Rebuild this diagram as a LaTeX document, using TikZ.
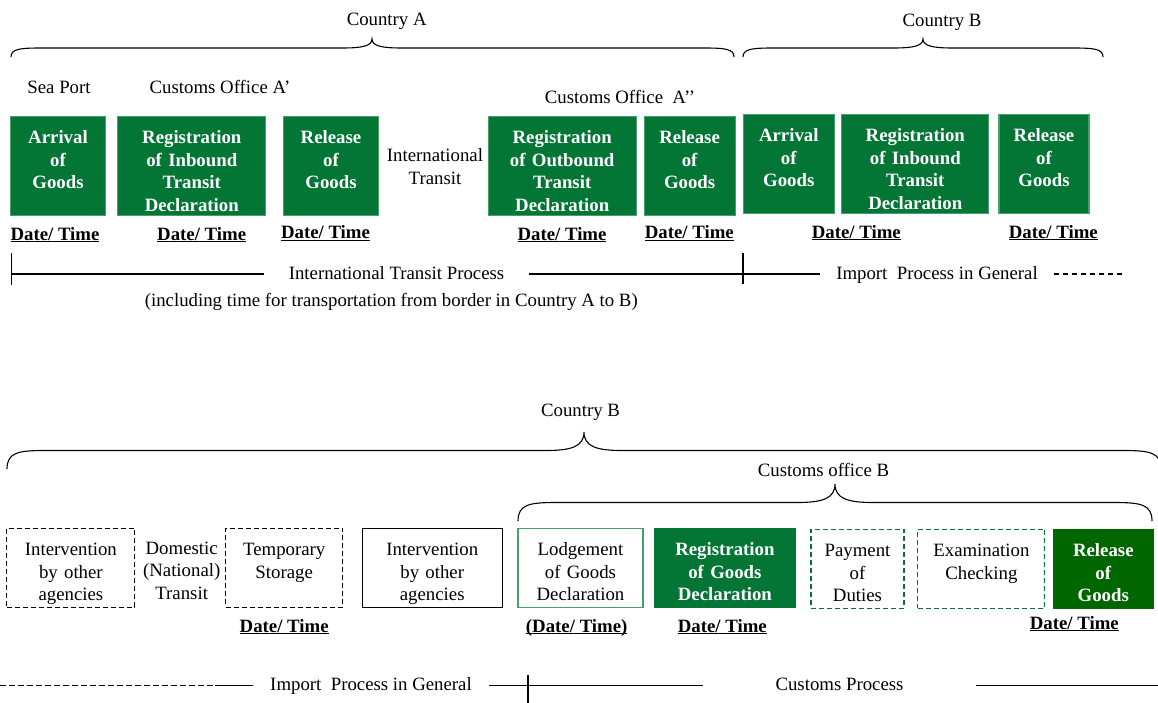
\documentclass[tikz,border=0pt]{standalone}
\usepackage{fontspec}
\setmainfont{Liberation Serif}
\definecolor{boxgreen}{RGB}{3,118,54}
\definecolor{edgegreen}{RGB}{70,160,105}
\definecolor{deepgreen}{RGB}{0,102,0}
\newcommand{\dtul}[1]{\underline{\smash{#1}}}
% left x, right x, tip x, end y, height, curl width
\newcommand{\curlbrace}[6]{%
  \draw[bracestyle] (#1,#4) .. controls (#1,{#4-0.45*#5}) and ({#1+0.3*#6},{#4-0.5*#5}) .. ({#1+#6},{#4-0.5*#5})
    -- ({#3-#6},{#4-0.5*#5}) .. controls ({#3-0.35*#6},{#4-0.5*#5}) and (#3,{#4-0.6*#5}) .. (#3,{#4-#5})
    .. controls (#3,{#4-0.6*#5}) and ({#3+0.35*#6},{#4-0.5*#5}) .. ({#3+#6},{#4-0.5*#5})
    -- ({#2-#6},{#4-0.5*#5}) .. controls ({#2-0.3*#6},{#4-0.5*#5}) and (#2,{#4-0.45*#5}) .. (#2,#4);}
\tikzset{bracestyle/.style={line width=1.1pt}}
\tikzset{stepbox/.style={rectangle, anchor=north, text width=#1, align=center, inner xsep=0pt, inner ysep=0pt, line width=1.1pt}}
\tikzset{greenbox/.style={stepbox=#1, fill=boxgreen, draw=edgegreen, text=white, font=\bfseries, text height=27pt, text depth=72pt}}
\tikzset{lowbox/.style={stepbox=#1, text height=27.5pt, text depth=51.5pt}}
\tikzset{lowfill/.style={lowbox=#1, fill=boxgreen, draw=boxgreen, text=white, font=\bfseries}}
\tikzset{plaintext/.style={anchor=base, inner sep=0pt}}
\tikzset{datetime/.style={anchor=base, inner sep=0pt, font=\bfseries}}
\tikzset{linetext/.style={inner ysep=0pt, inner xsep=#1, text height=13pt, text depth=3pt}}
\tikzset{blackdash/.style={draw, dash pattern=on 5pt off 3pt}}
\tikzset{greendash/.style={draw=boxgreen, dash pattern=on 5pt off 3pt}}

\begin{document}
\begin{tikzpicture}[x=1pt, y=-1pt, line width=1.1pt, execute at begin picture={\fontsize{18.8}{22.5}\selectfont}]
\useasboundingbox (0,0) rectangle (1158,702);

% countries
\node[plaintext] (ctyA) at (386.7,25.5) {Country A};
\node[plaintext] (ctyB) at (942,26) {Country B};
\curlbrace{11}{734}{372}{57}{18}{30}
\curlbrace{743}{1103}{923}{57}{18}{30}

\node[plaintext] (seaport) at (59,93) {Sea Port};
\node[plaintext] (officeA1) at (220,93) {Customs Office A’};
\node[plaintext] (officeA2) at (620,103.3) {Customs Office~ A’’};

% steps in transit
\node[greenbox=95pt] (arriveA) at (58,116.3) {Arrival\\of\\Goods};
\node[greenbox=148pt] (registerA) at (191.8,116.3) {Registration\\of Inbound\\Transit\\Declaration};
\node[greenbox=95pt] (releaseA) at (331,116.3) {Release\\of\\Goods};
\node[plaintext, text width=100pt, align=center] (transit) at (435,161.7) {International\\Transit};
\node[greenbox=148pt] (outboundA) at (562.2,116.3) {Registration\\of Outbound\\Transit\\Declaration};
\node[greenbox=91pt] (releaseA2) at (689.6,116.3) {Release\\of\\Goods};
\node[greenbox=91pt] (arriveB) at (788.8,114.3) {Arrival\\of\\Goods};
\node[greenbox=147pt] (registerB) at (915.3,114.3) {Registration\\of Inbound\\Transit\\Declaration};
\node[greenbox=90pt] (releaseB) at (1044,114.3) {Release\\of\\Goods};

\node[datetime] (dtArriveA) at (55,240) {\dtul{Date/ Time}};
\node[datetime] (dtRegisterA) at (201.7,240) {\dtul{Date/ Time}};
\node[datetime] (dtReleaseA) at (325.5,238.7) {\dtul{Date/ Time}};
\node[datetime] (dtOutboundA) at (562,240) {\dtul{Date/ Time}};
\node[datetime] (dtReleaseA2) at (689.3,238.7) {\dtul{Date/ Time}};
\node[datetime] (dtRegisterB) at (856.3,238) {\dtul{Date/ Time}};
\node[datetime] (dtReleaseB) at (1053.3,238) {\dtul{Date/ Time}};

% transit time line
\coordinate (startA) at (11.7,274);
\coordinate (borderAB) at (743,274);
\coordinate (dashEnd) at (1123,274);
\node[linetext=24pt] (itp) at (396.5,274) {International Transit Process};
\node[linetext=16pt] (impTop) at (937,274) {Import~ Process in General};
\draw ([yshift=21pt]startA) -- ([yshift=-11pt]startA);
\draw ([yshift=21pt]borderAB) -- ([yshift=-10pt]borderAB);
\draw (startA) -- (itp.west);
\draw (itp.east) -- (borderAB) -- (impTop.west);
\draw[dash pattern=on 5pt off 4pt] (impTop.east) -- (dashEnd);
\node[plaintext] (incl) at (391.3,306) {(including time for transportation from border in Country A to B)};

% country B
\node[plaintext] (ctyB2) at (580.5,416) {Country B};
\curlbrace{7}{1161}{584}{469}{37}{38}
\node[plaintext] (officeB) at (823.5,476) {Customs office B};
\curlbrace{518}{1152}{835}{521}{37}{38}

\node[lowbox=128pt, blackdash] (agency1) at (70.9,527.5) {Intervention\\by other\\agencies};
\node[plaintext, text width=80pt, align=center] (domestic) at (181.7,554) {Domestic\\(National)\\Transit};
\node[lowbox=117pt, blackdash] (storage) at (284.2,527.5) {Temporary\\Storage};
\node[lowbox=140pt, draw] (agency2) at (432.2,527.5) {Intervention\\by other\\agencies};
\node[lowbox=125pt, draw=edgegreen] (lodge) at (580.5,527.5) {Lodgement\\of Goods\\Declaration};
\node[lowfill=141pt] (registerG) at (724.9,527.5) {Registration\\of Goods\\Declaration};
\node[lowbox=93pt, greendash] (payment) at (857.5,528.5) {Payment\\of\\Duties};
\node[lowbox=127pt, greendash] (exam) at (981.4,528.5) {Examination\\Checking};
\node[lowfill=100pt, fill=deepgreen, draw=deepgreen] (releaseG) at (1103.3,528.5) {Release\\of\\Goods};

\node[datetime] (dtStorage) at (284.2,632) {\dtul{Date/ Time}};
\node[datetime] (dtLodge) at (576.7,632) {\dtul{(Date/ Time)}};
\node[datetime] (dtRegisterG) at (722.3,632) {\dtul{Date/ Time}};
\node[datetime] (dtReleaseG) at (1074.3,629) {\dtul{Date/ Time}};

% import time line
\coordinate (leftEdge) at (0,685.5);
\coordinate (dashStop) at (215,685.5);
\coordinate (customsStart) at (528,685.5);
\coordinate (rightEdge) at (1158,685.5);
\node[linetext=17pt] (impBot) at (371,685.5) {Import~ Process in General};
\node[linetext=72pt] (custProc) at (839.5,685.5) {Customs Process};
\draw[dash pattern=on 6pt off 3pt] (leftEdge) -- (dashStop);
\draw (dashStop) -- (impBot.west);
\draw (impBot.east) -- (custProc.west);
\draw (custProc.east) -- (rightEdge);
\draw ([yshift=10.5pt]customsStart) -- ([yshift=-17pt]customsStart);
\end{tikzpicture}
\end{document}
